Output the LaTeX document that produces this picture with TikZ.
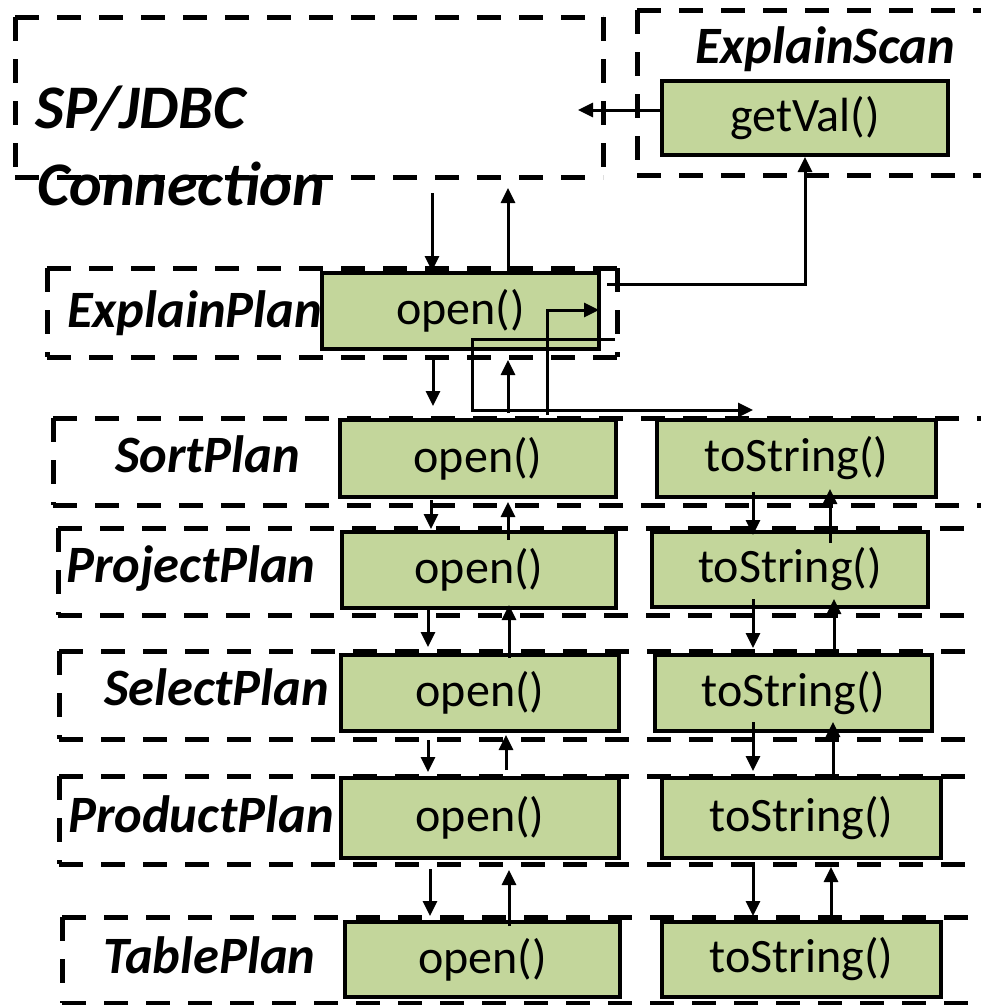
\documentclass[tikz,border=0pt]{standalone}
\usepackage{fontspec}
\setmainfont{Carlito}
\usetikzlibrary{arrows.meta,calc}
\definecolor{boxgreen}{RGB}{195,214,155}
\tikzset{
  gbox/.style={draw=black, line width=4pt, fill=boxgreen, inner sep=0pt,
    font=\fontsize{48}{52}\selectfont},
  dashline/.style={line width=5pt, dash pattern=on 24pt off 18pt},
  lbl/.style={inner sep=0pt, anchor=base west,
    font=\fontsize{52.5}{57}\selectfont\bfseries\itshape},
  biglbl/.style={lbl, font=\fontsize{62}{68}\selectfont\bfseries\itshape},
  arr/.style={line width=3pt, -{Triangle[length=15pt,width=14pt]}},
}
\newcommand{\dashedbox}[3]{%
  \coordinate (#1-nw) at (#2);
  \coordinate (#1-se) at (#3);
  \draw[dashline] (#1-nw) -- (#1-nw -| #1-se);
  \draw[dashline] (#1-nw) -- (#1-nw |- #1-se);
  \draw[dashline] (#1-nw |- #1-se) -- (#1-se);
  \draw[dashline] (#1-nw -| #1-se) -- (#1-se);
}
\begin{document}
\begin{tikzpicture}[x=1pt,y=-1pt]
\useasboundingbox (0,0) rectangle (981,1005);
\clip (0,0) rectangle (981,1005);
\fill[white] (0,0) rectangle (981,1005);

% dashed containers
\dashedbox{spc}{15,17}{603,177}
\dashedbox{esc}{637,10}{1010,175}
\dashedbox{epc}{47,268}{617,357}
\dashedbox{spl}{53,418}{1010,505}
\dashedbox{ppl}{58,528}{1010,615}
\dashedbox{sepl}{59,651}{1010,739}
\dashedbox{prpl}{59,776}{1010,864}
\dashedbox{tpl}{62,917}{1010,1003}

% container labels
\node[biglbl] (lsp1) at (35,128) {SP/JDBC};
\node[biglbl] (lsp2) at (37,205) {Connection};
\node[lbl] (les) at (695,63) {ExplainScan};
\node[lbl] (lep) at (67,327) {ExplainPlan};
\node[lbl] (lsort) at (115,472) {SortPlan};
\node[lbl] (lproj) at (66,582) {ProjectPlan};
\node[lbl] (lsel) at (104,705) {SelectPlan};
\node[lbl] (lprod) at (68,832) {ProductPlan};
\node[lbl] (ltab) at (103,973) {TablePlan};

% method boxes
\node[gbox, minimum width=286pt, minimum height=74pt] (gv) at (805,118) {getVal()};
\node[gbox, minimum width=277pt, minimum height=76pt] (eo) at (460.5,311) {open()};
\node[gbox, minimum width=276pt, minimum height=77pt] (so) at (478,458.5) {open()};
\node[gbox, minimum width=279pt, minimum height=77pt] (st) at (796.5,458.5) {toString()};
\node[gbox, minimum width=274pt, minimum height=76pt] (po) at (479,570) {open()};
\node[gbox, minimum width=276pt, minimum height=75pt] (pt) at (790,569.5) {toString()};
\node[gbox, minimum width=278pt, minimum height=76pt] (seo) at (480,693) {open()};
\node[gbox, minimum width=277pt, minimum height=76pt] (set) at (793.5,693) {toString()};
\node[gbox, minimum width=278pt, minimum height=80pt] (pro) at (480,818) {open()};
\node[gbox, minimum width=279pt, minimum height=80pt] (prt) at (801.5,818) {toString()};
\node[gbox, minimum width=275pt, minimum height=75pt] (to) at (482.5,959.5) {open()};
\node[gbox, minimum width=279pt, minimum height=75pt] (tt) at (801.5,959.5) {toString()};

% free ends near the connection box
\coordinate (spcall) at (432,193);
\coordinate (spret) at (508,188);
\coordinate (spval) at (578,110);

% connection <-> ExplainPlan
\draw[arr] (spcall) -- ([shift={(-28.5,0)}]eo.north);
\draw[arr] ([shift={(47.5,0)}]eo.north) -- (spret);
\draw[arr] ([shift={(6,-27)}]eo.east) -| (gv.south);
\draw[arr] ([shift={(0,-8)}]gv.west) -- (spval);

% ExplainPlan <-> SortPlan
\draw[arr] ([shift={(-27.5,6)}]eo.south) -- ([shift={(-45,-12)}]so.north);
\draw[arr] ([shift={(30,-5)}]so.north) -- ([shift={(47.5,9)}]eo.south);
\draw[arr] ([shift={(14,28)}]eo.east) -- ++(-143,0) |- ([shift={(-43.5,-8)}]st.north);
\draw[arr] ([shift={(69,-3)}]so.north) |- ([shift={(-2,-1)}]eo.east);

% open() chain
\draw[arr] ([shift={(-47,1)}]so.south) -- ([shift={(-48,-1)}]po.north);
\draw[arr] ([shift={(29,10)}]po.north) -- ([shift={(30,3)}]so.south);
\draw[arr] ([shift={(-51,-2)}]po.south) -- ([shift={(-52,-6)}]seo.north);
\draw[arr] ([shift={(29,5)}]seo.north) -- ([shift={(30,-5)}]po.south);
\draw[arr] ([shift={(-52,7)}]seo.south) -- ([shift={(-52,-4)}]pro.north);
\draw[arr] ([shift={(26,-6)}]pro.north) -- ([shift={(26,2)}]seo.south);
\draw[arr] ([shift={(-50,9)}]pro.south) -- ([shift={(-52.5,-4)}]to.north);
\draw[arr] ([shift={(26.5,6)}]to.north) -- ([shift={(29,10)}]pro.south);

% toString() chain
\draw[arr] ([shift={(-43.5,-7)}]st.south) -- ([shift={(-37,5)}]pt.north);
\draw[arr] ([shift={(40,13)}]pt.north) -- ([shift={(33.5,-10)}]st.south);
\draw[arr] ([shift={(-37,-10)}]pt.south) -- ([shift={(-40.5,-5)}]set.north);
\draw[arr] ([shift={(40.5,0)}]set.north) -- ([shift={(44,-10)}]pt.south);
\draw[arr] ([shift={(-40.5,-11)}]set.south) -- ([shift={(-48.5,-5)}]prt.north);
\draw[arr] ([shift={(31.5,-1)}]prt.north) -- ([shift={(39.5,-11)}]set.south);
\draw[arr] ([shift={(-48.5,5)}]prt.south) -- ([shift={(-48.5,-4)}]tt.north);
\draw[arr] ([shift={(29.5,-2)}]tt.north) -- ([shift={(29.5,7)}]prt.south);
\end{tikzpicture}
\end{document}
